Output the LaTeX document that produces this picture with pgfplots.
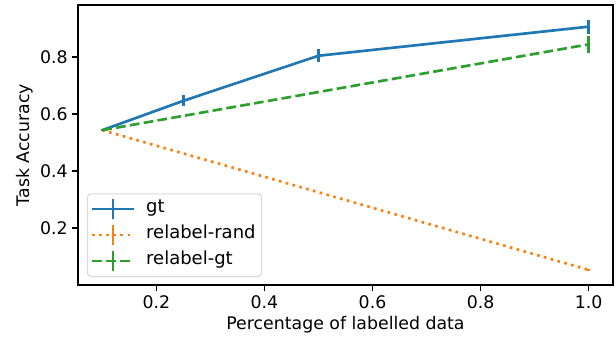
\documentclass[border=0pt]{standalone}
\usepackage{pgfplots}
\pgfplotsset{compat=1.18}
\usepackage{fontspec}
\setmainfont{DejaVu Sans}
\definecolor{c0}{HTML}{1F77B4}
\definecolor{c1}{HTML}{FF7F0E}
\definecolor{c2}{HTML}{2CA02C}
\begin{document}
\begin{tikzpicture}
\begin{axis}[
  name=ax,
  width=401.25pt, height=210pt, scale only axis,
  xmin=0.055, xmax=1.045, ymin=0.0, ymax=0.982,
  xtick={0.2,0.4,0.6,0.8,1.0}, ytick={0.2,0.4,0.6,0.8},
  xticklabels={0.2,0.4,0.6,0.8,1.0}, yticklabels={0.2,0.4,0.6,0.8},
  tick align=outside, tick pos=left,
  major tick length=4.2pt,
  every tick/.style={black, line width=1pt},
  axis line style={line width=1pt, black},
  ticklabel style={font=\fontsize{13}{15}\selectfont},
  every axis x label/.style={at={(rel axis cs:0.5,0)}, yshift=-30pt, anchor=center, font=\fontsize{13}{15}\selectfont},
  every axis y label/.style={at={(rel axis cs:0,0.5)}, xshift=-39.75pt, rotate=90, anchor=center, font=\fontsize{13}{15}\selectfont},
  xlabel={Percentage of labelled data},
  ylabel={Task Accuracy},
]
\addplot[c0, line width=2pt, error bars/.cd, y dir=both, y explicit, error bar style={line width=2pt}, error mark=none]
  coordinates {(0.1,0.543) +- (0,0.004) (0.25,0.646) +- (0,0.019) (0.5,0.804) +- (0,0.022) (1.0,0.906) +- (0,0.025)};
\addplot[c1, line width=2pt, dash pattern=on 2pt off 3.3pt, error bars/.cd, y dir=both, y explicit, error bar style={line width=2pt, solid}, error mark=none]
  coordinates {(0.1,0.543) +- (0,0.003) (1.0,0.053) +- (0,0.003)};
\addplot[c2, line width=2pt, dash pattern=on 7.3pt off 3.2pt, error bars/.cd, y dir=both, y explicit, error bar style={line width=2pt, solid}, error mark=none]
  coordinates {(0.1,0.543) +- (0,0.003) (1.0,0.844) +- (0,0.031)};
\end{axis}
\begin{axis}[
  width=401.25pt, height=210pt, scale only axis,
  xmin=0.055, xmax=1.045, ymin=0.0, ymax=0.982,
  hide axis,
  legend style={font=\fontsize{13.5}{15}\selectfont, draw=black!15, line width=0.8pt, rounded corners=2.5pt,
    at={(rel axis cs:0,0)}, anchor=south west, xshift=6.75pt, yshift=6pt,
    row sep=2.5pt, column sep=6.5pt, inner xsep=2.5pt, inner ysep=3pt,
    nodes={inner sep=2pt, text height=0.75em, text depth=0.25em}},
  legend cell align=left,
  legend image code/.code={
    \draw[#1] (0pt,0pt) -- (31pt,0pt);
    \draw[#1, solid] (15.5pt,-7.5pt) -- (15.5pt,7.5pt);
  },
]
\addlegendimage{c0, line width=2pt}
\addlegendentry{gt}
\addlegendimage{c1, line width=2pt, dash pattern=on 2pt off 3.3pt}
\addlegendentry{relabel-rand}
\addlegendimage{c2, line width=2pt, dash pattern=on 7.3pt off 3.2pt}
\addlegendentry{relabel-gt}
\end{axis}
\path ([shift={(-58.5pt,-40.5pt)}]ax.south west) rectangle ([shift={(2.25pt,3.75pt)}]ax.north east);
\end{tikzpicture}
\end{document}
